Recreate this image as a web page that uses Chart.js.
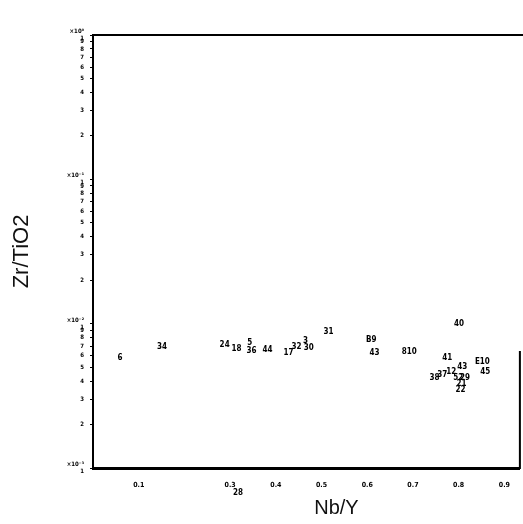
<!DOCTYPE html>
<html>
<head>
<meta charset="utf-8">
<script src="https://cdn.jsdelivr.net/npm/chart.js@4.4.1/dist/chart.umd.min.js"></script>
<style>
  html, body { margin: 0; padding: 0; background: #fff; }
  #wrap { width: 523px; height: 524px; }
</style>
</head>
<body>
<div id="wrap"><canvas id="myChart" width="523" height="524"></canvas></div>
<script>
// sample numbers printed at each point
var sampleLabels = ['6', '34', '24', '18', '5', '36', '44', '17', '32', '3', '30', '31', 'B9', '43', '810',
                    '40', '41', '43', 'E10', '45', '38', '37', '12', '52', '21', '22', '29', '28'];
var nbY = [0.059, 0.151, 0.288, 0.314, 0.343, 0.347, 0.382, 0.428, 0.445, 0.465, 0.472, 0.515, 0.609, 0.616, 0.692,
           0.801, 0.775, 0.808, 0.852, 0.858, 0.747, 0.764, 0.784, 0.799, 0.806, 0.804, 0.814, 0.317];
var zrTiO2 = [0.0058, 0.0069, 0.0071, 0.0067, 0.0074, 0.0065, 0.0066, 0.0063, 0.0069, 0.0076, 0.0068, 0.0088, 0.0077, 0.0063, 0.0064,
              0.0100, 0.0058, 0.0050, 0.0054, 0.0046, 0.0042, 0.0044, 0.0046, 0.0042, 0.0038, 0.0035, 0.0042, 0.00067];
var xTickValues = [0.1, 0.3, 0.4, 0.5, 0.6, 0.7, 0.8, 0.9];
var yTickValues = [0.001, 0.002, 0.003, 0.004, 0.005, 0.006, 0.007, 0.008, 0.009,
                   0.01, 0.02, 0.03, 0.04, 0.05, 0.06, 0.07, 0.08, 0.09,
                   0.1, 0.2, 0.3, 0.4, 0.5, 0.6, 0.7, 0.8, 0.9, 1];
var yTickLabels = [['\u00d710\u207b\u00b3', '1'], '2', '3', '4', '5', '6', '7', '8', '9',
                   ['\u00d710\u207b\u00b2', '1'], '2', '3', '4', '5', '6', '7', '8', '9',
                   ['\u00d710\u207b\u00b9', '1'], '2', '3', '4', '5', '6', '7', '8', '9',
                   ['\u00d710\u2070', '1']];

var labelPlugin = {
    id: 'sampleLabels',
    afterDatasetsDraw: function(chart) {
        var ctx = chart.ctx;
        var meta = chart.getDatasetMeta(0);
        ctx.save();
        ctx.font = 'bold 8px "DejaVu Sans Condensed", "DejaVu Sans", sans-serif';
        ctx.fillStyle = '#000';
        ctx.textAlign = 'center';
        ctx.textBaseline = 'middle';
        meta.data.forEach(function(pt, i) {
            ctx.fillText(sampleLabels[i], pt.x, pt.y);
        });
        ctx.restore();
    }
};

// top line and the short right edge of the frame
var framePlugin = {
    id: 'frame',
    afterDraw: function(chart) {
        var a = chart.chartArea, ctx = chart.ctx;
        ctx.save();
        ctx.strokeStyle = '#000';
        ctx.lineWidth = 2;
        ctx.beginPath();
        ctx.moveTo(a.left - 1, a.top);
        ctx.lineTo(chart.width, a.top);
        ctx.moveTo(a.right, a.top + 0.73 * (a.bottom - a.top));
        ctx.lineTo(a.right, a.bottom + 1);
        ctx.stroke();
        ctx.restore();
    }
};

document.addEventListener("DOMContentLoaded", function() {
    var ctx = document.getElementById('myChart').getContext('2d');
    var points = nbY.map(function(x, i) { return { x: x, y: zrTiO2[i] }; });

    new Chart(ctx, {
        type: 'scatter',
        data: {
            datasets: [{
                label: 'Zr/TiO2',
                data: points,
                pointRadius: 0,
                pointHoverRadius: 0,
                clip: false
            }]
        },
        options: {
            responsive: false,
            animation: false,
            layout: { padding: { top: 35, right: 2, left: 0, bottom: 0 } },
            plugins: { legend: { display: false }, tooltip: { enabled: false } },
            scales: {
                x: {
                    type: 'linear',
                    min: 0,
                    max: 0.934,
                    afterBuildTicks: function(scale) {
                        scale.ticks = xTickValues.map(function(v) { return { value: v }; });
                    },
                    afterFit: function(scale) { scale.height = 56; },
                    grid: { display: false, drawTicks: false },
                    border: { display: true, color: '#000', width: 3 },
                    ticks: {
                        padding: 13,
                        maxRotation: 0,
                        autoSkip: false,
                        color: '#000',
                        font: { family: '"DejaVu Sans Condensed", "DejaVu Sans", sans-serif', size: 7, weight: 'bold' },
                        callback: function(v) { return v.toFixed(1); }
                    },
                    title: {
                        display: true,
                        text: '\u2002\u2002\u2002\u2002\u2002\u2002Nb/Y',
                        color: '#111',
                        font: { family: '"Liberation Sans", Arial, sans-serif', size: 20 },
                        padding: { top: 0, bottom: 4 }
                    }
                },
                y: {
                    type: 'logarithmic',
                    min: 0.001,
                    max: 1,
                    afterBuildTicks: function(scale) {
                        scale.ticks = yTickValues.map(function(v) { return { value: v }; });
                    },
                    afterFit: function(scale) { scale.width = 93; },
                    grid: { display: true, drawOnChartArea: false, drawTicks: true, tickLength: 3, color: '#000' },
                    border: { display: true, color: '#000', width: 2 },
                    ticks: {
                        padding: 6,
                        autoSkip: false,
                        color: '#000',
                        font: { family: '"DejaVu Sans Condensed", "DejaVu Sans", sans-serif', size: 6, weight: 'bold' },
                        callback: function(value, index) { return yTickLabels[index]; }
                    },
                    title: {
                        display: true,
                        text: 'Zr/TiO2',
                        color: '#111',
                        font: { family: '"Liberation Sans", Arial, sans-serif', size: 22, weight: 300 },
                        padding: { top: 9, bottom: 0 }
                    }
                }
            }
        },
        plugins: [labelPlugin, framePlugin]
    });
});
</script>
</body>
</html>
